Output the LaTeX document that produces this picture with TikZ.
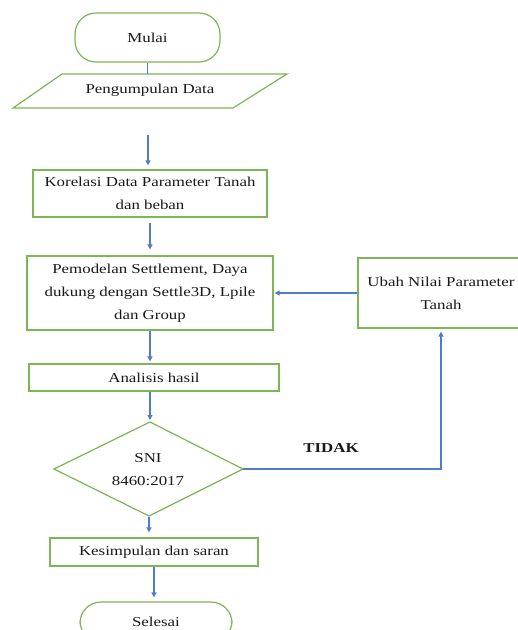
\documentclass[tikz,border=0pt]{standalone}
\usepackage{fontspec}
\setmainfont[FakeStretch=1.24]{Liberation Serif}
\usetikzlibrary{arrows.meta,shapes.geometric}
\definecolor{gline}{RGB}{125,182,84}
\definecolor{bline}{RGB}{79,124,205}
\begin{document}
\begin{tikzpicture}[x=1pt,y=-1pt,
  txt/.style={font=\fontsize{13.6}{23}\selectfont,text=black!90,align=center,inner sep=0pt},
  box/.style={txt,draw=gline,line width=1.2pt},
  term/.style={box,rounded corners=21pt},
  arr/.style={draw=bline,line width=1.4pt,-{Triangle[length=5pt,width=5pt]},shorten >=2pt},
  ln/.style={draw=bline,line width=1.4pt}
]
\useasboundingbox (0,0) rectangle (518,630);
\clip (0,0) rectangle (518,630);
\fill[white] (0,0) rectangle (518,630);

\node[term,minimum width=145pt,minimum height=49pt] (mulai) at (147.5,37.5) {Mulai};

\coordinate (p1) at (62,74);
\coordinate (p2) at (287,74);
\coordinate (p3) at (233,108);
\coordinate (p4) at (13,108);
\draw[gline,line width=1.2pt] (p1) -- (p2) -- (p3) -- (p4) -- cycle;
\node[txt] (pg) at (150,90) {Pengumpulan Data};
\coordinate (pgtop) at (147.5,74);
\coordinate (astart) at (148,135);

\node[box,minimum width=234pt,minimum height=47pt] (kor) at (150,193.5) {Korelasi Data Parameter Tanah\\dan beban};
\node[box,minimum width=246pt,minimum height=74pt] (pem) at (150,293) {Pemodelan Settlement, Daya\\dukung dengan Settle3D, Lpile\\dan Group};
\node[box,minimum width=166pt,minimum height=70pt] (ubah) at (441,293) {Ubah Nilai Parameter\\Tanah};
\node[box,minimum width=250pt,minimum height=27pt] (ana) at (154,377.5) {Analisis hasil};

\coordinate (dtop) at (150,422);
\coordinate (dright) at (243,469);
\coordinate (dbot) at (149,516);
\coordinate (dleft) at (54,469);
\draw[gline,line width=1.2pt] (dtop) -- (dright) -- (dbot) -- (dleft) -- cycle;
\node[txt] (dia) at (148,470) {SNI\\8460:2017};

\node[box,minimum width=208pt,minimum height=28pt] (kes) at (154,552) {Kesimpulan dan saran};
\node[term,minimum width=152pt,minimum height=40pt] (sel) at (156,622) {Selesai};
\node[txt,font=\fontsize{13.6}{16}\selectfont\bfseries] (tidak) at (331,448) {TIDAK};

\draw[ln] (mulai.south) -- (pgtop);
\draw[arr,shorten >=4pt] (astart) -- (astart |- kor.north);
\draw[arr,shorten <=5pt,shorten >=6pt] (kor.south) -- (pem.north);
\draw[arr] (pem.south) -- (pem.south |- ana.north);
\draw[arr] (ana.south -| dtop) -- (dtop);
\draw[arr,shorten <=1pt,shorten >=5pt] (dbot) -- (dbot |- kes.north);
\draw[arr,shorten >=4pt] (kes.south) -- (kes.south |- sel.north);
\draw[arr,shorten >=1pt] (ubah.west) -- (pem.east);
\draw[arr,shorten >=3pt] (dright) -| (ubah.south);
\end{tikzpicture}
\end{document}
